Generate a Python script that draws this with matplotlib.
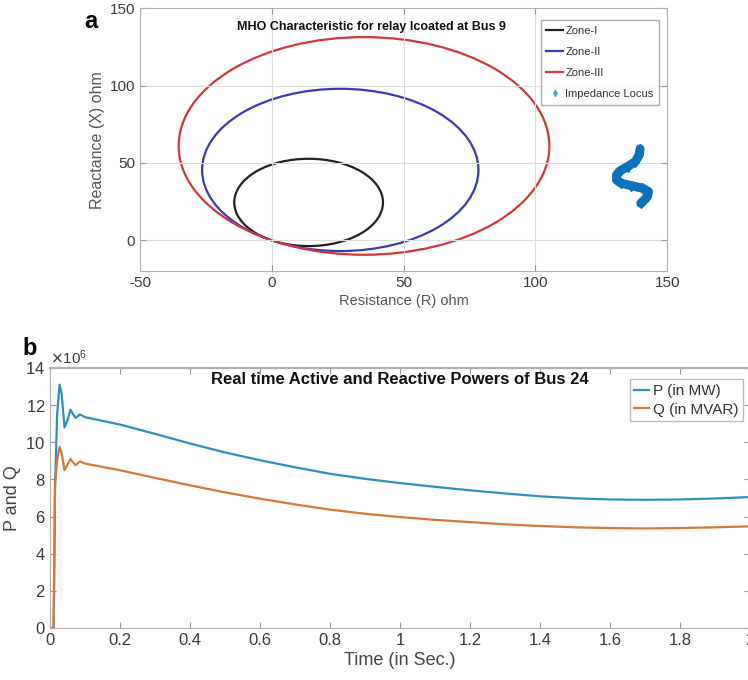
import matplotlib
matplotlib.use("Agg")
import matplotlib.pyplot as plt
from matplotlib.patches import Circle
from matplotlib.lines import Line2D

plt.rcParams['font.family'] = ['Liberation Sans', 'DejaVu Sans']
plt.rcParams['axes.unicode_minus'] = False

# ---------- Panel a data: Mho circles (centre R, centre X, radius) ----------
zone_names = ['Zone-I', 'Zone-II', 'Zone-III']
zone_cr = [14.0, 26.0, 35.0]
zone_cx = [24.5, 45.5, 61.0]
zone_rad = [28.2, 52.4, 70.3]
zone_colors = ['#222222', '#3a3ab8', '#d0383c']

locus_r = [139.7, 139.4, 137.9, 135.0, 132.1, 130.8, 130.8, 132.5, 136.3, 140.6, 142.9, 142.5, 141.3, 140.0]
locus_x = [59.1, 55.2, 50.9, 47.7, 44.9, 42.3, 39.0, 36.9, 35.4, 33.7, 31.5, 28.3, 26.1, 23.9]

a_xticks = [-50, 0, 50, 100, 150]
a_yticks = [0, 50, 100, 150]

# ---------- Panel b data ----------
t = [0, 0.010, 0.014, 0.020, 0.027, 0.033, 0.041, 0.050, 0.058, 0.066, 0.073, 0.085, 0.1,
     0.2, 0.3, 0.4, 0.5, 0.6, 0.7, 0.8, 0.9, 1.0, 1.1, 1.2, 1.3, 1.4, 1.5, 1.6, 1.7, 1.8, 1.9, 2.0]
p_mw = [0, 0, 7.5, 11.5, 13.1, 12.6, 10.8, 11.2, 11.75, 11.5, 11.3, 11.5, 11.35,
        10.95, 10.45, 9.93, 9.45, 9.03, 8.65, 8.3, 8.03, 7.8, 7.6, 7.41, 7.24, 7.09, 6.98, 6.92, 6.9, 6.92, 6.97, 7.05]
q_mvar = [0, 0, 7.8, 9.0, 9.75, 9.4, 8.5, 8.8, 9.1, 8.9, 8.76, 8.97, 8.85,
          8.49, 8.08, 7.68, 7.3, 6.96, 6.65, 6.37, 6.15, 5.97, 5.82, 5.7, 5.58, 5.49, 5.42, 5.38, 5.36, 5.38, 5.42, 5.47]
scale = 1e6
b_xticks = [0, 0.2, 0.4, 0.6, 0.8, 1, 1.2, 1.4, 1.6, 1.8, 2]
b_xticklabels = ['0', '0.2', '0.4', '0.6', '0.8', '1', '1.2', '1.4', '1.6', '1.8', '2']
b_yticks = [0, 2, 4, 6, 8, 10, 12, 14]

txt = '#3a3a3a'
spine = '#b0b0b0'

fig = plt.figure(figsize=(7.48, 6.8), dpi=100)

# ----------------- Panel a -----------------
ax1 = fig.add_axes([0.187, 0.601, 0.705, 0.387])
for cr, cx, rad, col in zip(zone_cr, zone_cx, zone_rad, zone_colors):
    ax1.add_patch(Circle((cr, cx), rad, fill=False, edgecolor=col, linewidth=1.6))
ax1.plot(locus_r, locus_x, color='#0a72bd', linewidth=6.5, marker='d', markersize=5,
         solid_capstyle='round', solid_joinstyle='round')
ax1.set_xlim(-50, 150)
ax1.set_ylim(-20, 150)
ax1.set_xticks(a_xticks)
ax1.set_yticks(a_yticks)
ax1.grid(True, color='#dddddd', linewidth=0.8)
ax1.tick_params(direction='in', length=4, labelsize=11, colors=txt, top=True, right=True, color='#999999')
for s in ax1.spines.values():
    s.set_color(spine)
ax1.set_xlabel('Resistance (R) ohm', fontsize=10.5, color='#555555', labelpad=3)
ax1.set_ylabel('Reactance (X) ohm', fontsize=11.5, color='#555555', labelpad=3)
ax1.text(0.44, 0.93, 'MHO Characteristic for relay lcoated at Bus 9', transform=ax1.transAxes,
         fontsize=9, fontweight='bold', color='#111111', ha='center', va='center')
handles = [Line2D([0], [0], color=c, lw=1.6) for c in zone_colors]
handles.append(Line2D([0], [0], color='#4aa8d8', lw=0, marker='d', markersize=3))
leg = ax1.legend(handles, zone_names + ['Impedance Locus'], loc='upper right', fontsize=8,
                 frameon=True, fancybox=False, edgecolor='#999999', handlelength=1.5,
                 handletextpad=0.2, borderpad=0.5, labelspacing=1.0,
                 bbox_to_anchor=(0.995, 0.975))
for tx in leg.get_texts():
    tx.set_color('#333333')
fig.text(0.113, 0.985, 'a', fontsize=17, fontweight='bold', va='top', ha='left')

# ----------------- Panel b -----------------
ax2 = fig.add_axes([0.067, 0.0765, 0.936, 0.3824])
ax2.plot(t, [v * scale for v in p_mw], color='#2f8fbf', linewidth=1.6, label='P (in MW)')
ax2.plot(t, [v * scale for v in q_mvar], color='#d6783a', linewidth=1.6, label='Q (in MVAR)')
ax2.set_xlim(0, 2)
ax2.set_ylim(0, 14 * scale)
ax2.set_xticks(b_xticks)
ax2.set_xticklabels(b_xticklabels)
ax2.set_yticks([v * scale for v in b_yticks])
ax2.ticklabel_format(axis='y', style='sci', scilimits=(6, 6), useMathText=True)
ax2.yaxis.get_offset_text().set_fontsize(11)
ax2.yaxis.get_offset_text().set_color('#777777')
ax2.tick_params(direction='in', length=4, labelsize=12, colors=txt, top=True, right=True, color='#999999')
for s in ax2.spines.values():
    s.set_color(spine)
ax2.spines['top'].set_linewidth(1.6)
ax2.set_xlabel('Time (in Sec.)', fontsize=13, color='#444444', labelpad=3)
ax2.set_ylabel('P and Q', fontsize=13, color='#444444', labelpad=3)
ax2.set_title('Real time Active and Reactive Powers of Bus 24', fontsize=12, fontweight='bold',
              color='#111111', y=0.905)
leg2 = ax2.legend(loc='upper right', fontsize=11, frameon=True, fancybox=False, edgecolor='#aaaaaa',
                  handlelength=1.0, handletextpad=0.2, borderpad=0.3, labelspacing=0.3,
                  bbox_to_anchor=(1.0, 0.985))
for tx in leg2.get_texts():
    tx.set_color('#333333')
fig.text(0.03, 0.505, 'b', fontsize=17, fontweight='bold', va='top', ha='left')

fig.savefig('out.png', dpi=100)
